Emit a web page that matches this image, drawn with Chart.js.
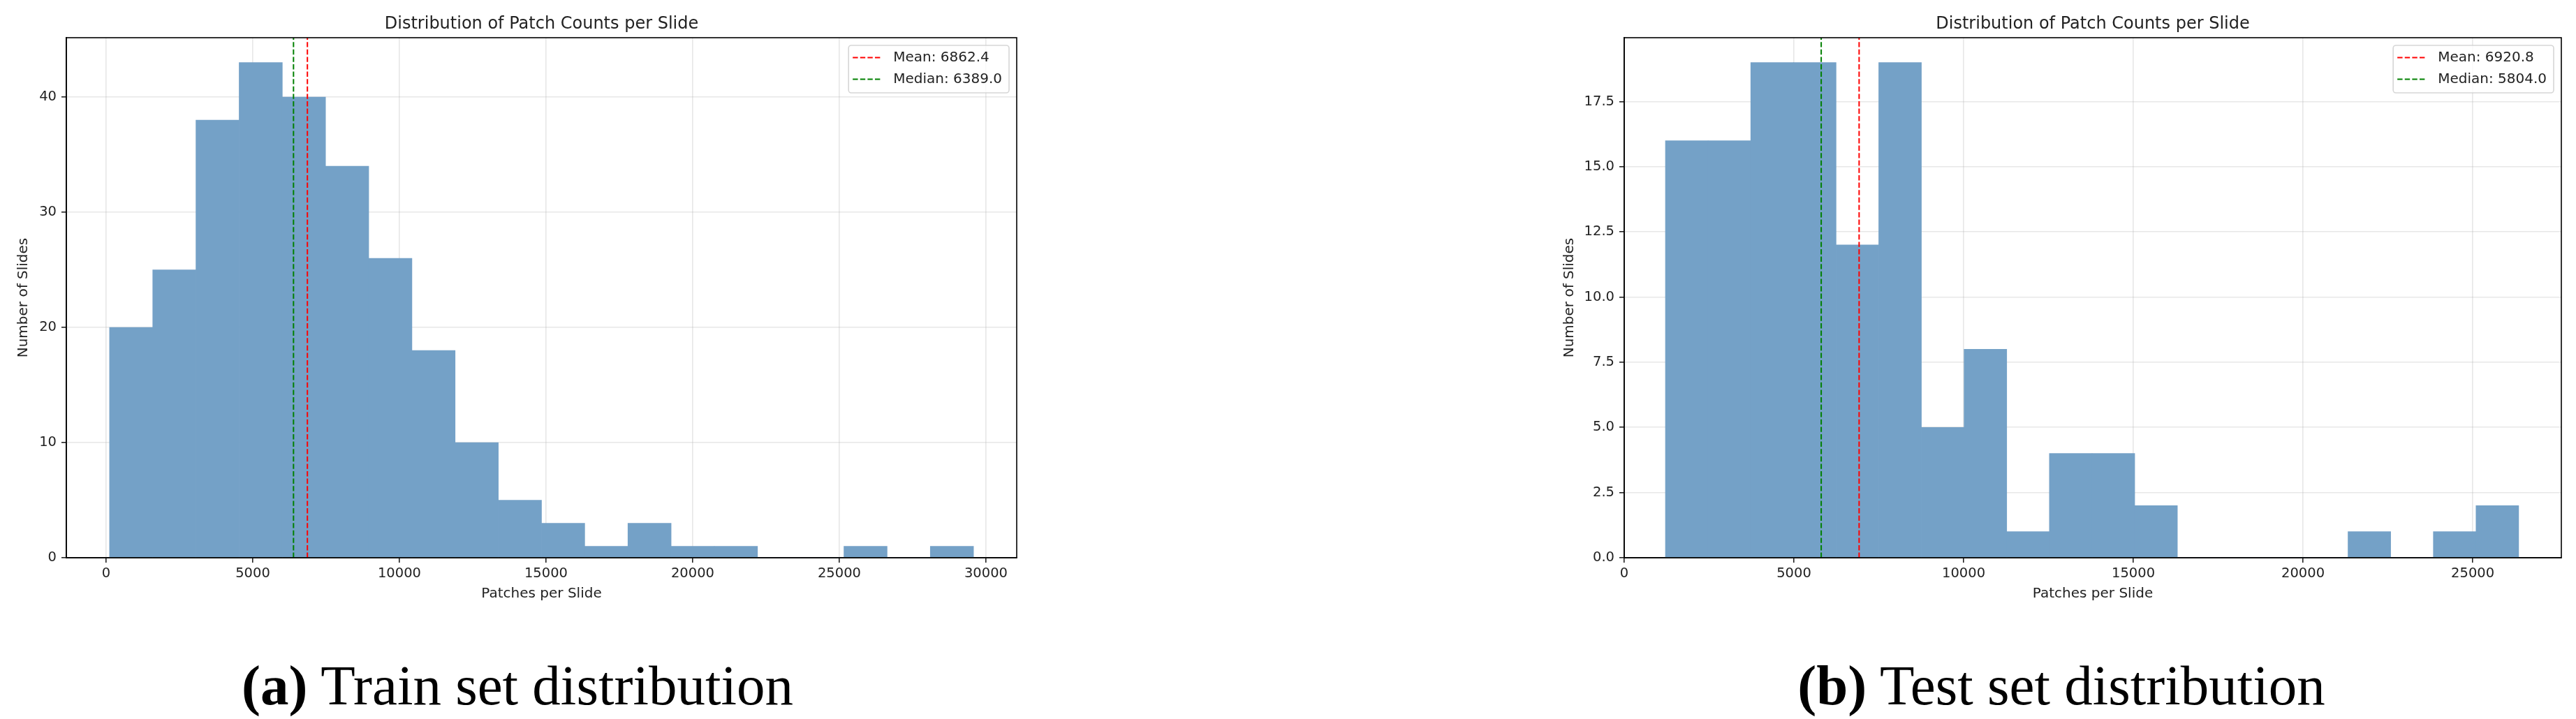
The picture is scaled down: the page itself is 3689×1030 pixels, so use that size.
<!DOCTYPE html>
<html>
<head>
<meta charset="utf-8">
<script src="https://cdn.jsdelivr.net/npm/chart.js@4.4.1/dist/chart.umd.min.js"></script>
<style>
  html, body { margin: 0; padding: 0; background: #fff; overflow: hidden; }
  body { width: 3689px; height: 1030px; position: relative; }
  canvas { position: absolute; top: 0; }
  #trainChart { left: 0; }
  #testChart { left: 2200px; }
  .cap {
    position: absolute; top: 942px; width: 1000px; text-align: center;
    font-family: "Liberation Serif", serif; font-size: 81px; line-height: 1; color: #000;
    white-space: nowrap;
  }
  .cap b { font-weight: bold; }
</style>
</head>
<body>
<canvas id="trainChart" width="1500" height="880"></canvas>
<canvas id="testChart" width="1489" height="880"></canvas>
<div class="cap" style="left:241px"><b>(a)</b> Train set distribution</div>
<div class="cap" style="left:2452px"><b>(b)</b> Test set distribution</div>
<script>
// -------- Data: train set (20 bins) --------
const trainEdges = [116, 1589, 3062, 4535, 6008, 7481, 8954, 10427, 11900, 13373, 14846,
  16319, 17792, 19265, 20738, 22211, 23684, 25157, 26630, 28103, 29576];
const trainCounts = [20, 25, 38, 43, 40, 34, 26, 18, 10, 5, 3, 1, 3, 1, 1, 0, 0, 1, 0, 1];
const trainMean = 6862.4;
const trainMedian = 6389.0;
const trainXTicks = [0, 5000, 10000, 15000, 20000, 25000, 30000];
const trainYTicks = [0, 10, 20, 30, 40];
const trainXRange = [-1357, 31049];
const trainYMax = 45.15;

// -------- Data: test set (20 bins) --------
const testEdges = [1214, 2471, 3728, 4985, 6242, 7499, 8756, 10013, 11270, 12527, 13784,
  15041, 16298, 17555, 18812, 20069, 21326, 22583, 23840, 25097, 26354];
const testCounts = [16, 16, 19, 19, 12, 19, 5, 8, 1, 4, 4, 2, 0, 0, 0, 0, 1, 0, 1, 2];
const testMean = 6920.8;
const testMedian = 5804.0;
const testXTicks = [0, 5000, 10000, 15000, 20000, 25000];
const testYTicks = [0, 2.5, 5, 7.5, 10, 12.5, 15, 17.5];
const testXRange = [0, 27611];
const testYMax = 19.95;

// -------- Styling --------
const FONT = 'DejaVu Sans';
const TEXT = '#222';
const GRID = 'rgba(176,176,176,0.3)';
const BAR = '#74a1c7';

// frame (top/right spines) + legend inside the axes
const framePlugin = {
  id: 'frameLegend',
  afterDraw(chart) {
    const { ctx, chartArea: a } = chart;
    ctx.save();
    ctx.strokeStyle = '#000';
    ctx.lineWidth = 1.6;
    ctx.strokeRect(a.left, a.top, a.right - a.left, a.bottom - a.top);

    const items = chart.data.datasets.filter(d => d.type === 'line');
    ctx.font = `20px "${FONT}"`;
    const tw = Math.max(...items.map(d => ctx.measureText(d.label).width));
    const w = 74 + tw, h = 68;
    const x0 = a.right - 11 - w, y0 = a.top + 11;
    ctx.beginPath();
    ctx.roundRect(x0, y0, w, h, 4);
    ctx.fillStyle = 'rgba(255,255,255,0.8)';
    ctx.fill();
    ctx.strokeStyle = 'rgba(204,204,204,0.8)';
    ctx.lineWidth = 1.6;
    ctx.stroke();
    items.forEach((d, i) => {
      const ly = y0 + 17.5 + i * 31;
      ctx.beginPath();
      ctx.setLineDash(d.borderDash);
      ctx.strokeStyle = d.borderColor;
      ctx.lineWidth = d.borderWidth;
      ctx.moveTo(x0 + 6, ly);
      ctx.lineTo(x0 + 48, ly);
      ctx.stroke();
      ctx.setLineDash([]);
      ctx.fillStyle = TEXT;
      ctx.textBaseline = 'middle';
      ctx.textAlign = 'left';
      ctx.fillText(d.label, x0 + 64, ly + 0.7);
    });
    ctx.restore();
  }
};

function makeHist(id, edges, counts, mean, median, xTicks, yTicks, xRange, yMax, opts) {
  const bars = counts.map((c, i) => ({ x: (edges[i] + edges[i + 1]) / 2, y: c }));
  const vline = v => [{ x: v, y: 0 }, { x: v, y: yMax }];

  new Chart(document.getElementById(id), {
    type: 'bar',
    data: {
      datasets: [
        {
          type: 'line', label: 'Mean: ' + mean.toFixed(1), data: vline(mean),
          borderColor: '#ff0000', borderWidth: 2, borderDash: [7.4, 3.2],
          pointRadius: 0, fill: false, order: 0
        },
        {
          type: 'line', label: 'Median: ' + median.toFixed(1), data: vline(median),
          borderColor: '#008000', borderWidth: 2, borderDash: [7.4, 3.2],
          pointRadius: 0, fill: false, order: 0
        },
        {
          type: 'bar', label: 'count', data: bars,
          backgroundColor: BAR, borderWidth: 0,
          barPercentage: 1, categoryPercentage: 1, order: 1
        }
      ]
    },
    options: {
      responsive: false,
      animation: false,
      layout: { padding: { left: 0, top: 0, right: opts.padRight, bottom: 0 } },
      plugins: {
        legend: { display: false },
        tooltip: { enabled: false },
        title: {
          display: true, fullSize: false,
          text: 'Distribution of Patch Counts per Slide',
          color: TEXT, font: { family: FONT, size: 24, weight: 'normal' },
          padding: { top: 20, bottom: 5.2 }
        }
      },
      scales: {
        x: {
          type: 'linear', position: 'bottom', offset: false, z: 1,
          min: xRange[0], max: xRange[1],
          afterBuildTicks: s => { s.ticks = xTicks.map(v => ({ value: v })); },
          afterFit: s => { s.height = 81; },
          grid: { offset: false, color: GRID, lineWidth: 1.6, tickColor: '#222', tickLength: 7, tickWidth: 1.6 },
          border: { color: '#000', width: 1.6 },
          ticks: {
            color: TEXT, font: { family: FONT, size: 19.5 }, padding: 4, maxRotation: 0, autoSkip: false,
            callback: v => String(v)
          },
          title: {
            display: true, text: 'Patches per Slide', color: TEXT,
            font: { family: FONT, size: 20 }, padding: { top: 0, bottom: 17 }
          }
        },
        y: {
          type: 'linear', position: 'left', z: 1,
          min: 0, max: yMax,
          afterBuildTicks: s => { s.ticks = yTicks.map(v => ({ value: v })); },
          afterFit: s => { s.width = opts.yWidth; },
          grid: { offset: false, color: GRID, lineWidth: 1.6, tickColor: '#222', tickLength: 7, tickWidth: 1.6 },
          border: { color: '#000', width: 1.6 },
          ticks: {
            color: TEXT, font: { family: FONT, size: 19.5 }, padding: 7, autoSkip: false,
            callback: v => opts.yDecimals ? v.toFixed(1) : String(v)
          },
          title: {
            display: true, text: 'Number of Slides', color: TEXT,
            font: { family: FONT, size: 20 }, padding: { top: opts.yTitlePad, bottom: 0 }
          }
        }
      }
    },
    plugins: [framePlugin]
  });
}

makeHist('trainChart', trainEdges, trainCounts, trainMean, trainMedian,
  trainXTicks, trainYTicks, trainXRange, trainYMax,
  { padRight: 44, yWidth: 95, yTitlePad: 22, yDecimals: false });

makeHist('testChart', testEdges, testCounts, testMean, testMedian,
  testXTicks, testYTicks, testXRange, testYMax,
  { padRight: 21, yWidth: 126, yTitlePad: 36, yDecimals: true });
</script>
</body>
</html>
